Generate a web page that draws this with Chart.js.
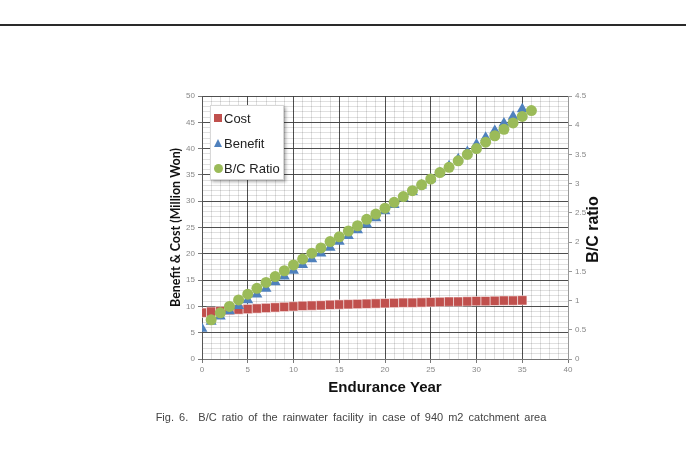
<!DOCTYPE html>
<html>
<head>
<meta charset="utf-8">
<script src="https://cdn.jsdelivr.net/npm/chart.js@4"></script>
<style>
    html, body { margin: 0; padding: 0; background: #fff; }
    #wrap { position: relative; width: 686px; height: 459px; overflow: hidden; }
    #chart { position: absolute; left: 0; top: 0; }
    .rule { position: absolute; left: 0; top: 24px; width: 686px; height: 2px; background: #2a2a2a; }
    .caption {
        position: absolute; left: 8px; top: 411px; width: 686px; text-align: center;
        font: 11px "Liberation Sans", Arial, sans-serif; line-height: 13px;
        color: #444; word-spacing: 2px; white-space: pre;
    }
    .legend {
        position: absolute; left: 210px; top: 105px; width: 74px; height: 75px;
        background: #fff; border: 1px solid #d8d8d8; box-sizing: border-box;
        box-shadow: 2px 2px 3px rgba(0, 0, 0, 0.3);
        font: 13px "Liberation Sans", Arial, sans-serif; color: #222;
    }
    .legend div { position: relative; height: 25px; line-height: 25px; padding-left: 13px; }
    .legend i { position: absolute; left: 3px; top: 8px; }
    .sq { width: 8px; height: 8px; background: #c0504d; }
    .tri { width: 0; height: 0; border-left: 4.5px solid transparent; border-right: 4.5px solid transparent; border-bottom: 8px solid #4f81bd; }
    .dot { width: 9px; height: 9px; border-radius: 50%; background: #9bbb59; }
</style>
</head>
<body>
<div id="wrap">
    <div class="rule"></div>
    <canvas id="chart" width="686" height="459"></canvas>
    <div class="legend">
        <div><i class="sq"></i>Cost</div>
        <div><i class="tri"></i>Benefit</div>
        <div><i class="dot"></i>B/C Ratio</div>
    </div>
    <div class="caption">Fig. 6.  B/C ratio of the rainwater facility in case of 940 m2 catchment area</div>
</div>
<script>
// years of service (x) for cost and benefit
const years = [0, 1, 2, 3, 4, 5, 6, 7, 8, 9, 10, 11, 12, 13, 14, 15, 16, 17,
    18, 19, 20, 21, 22, 23, 24, 25, 26, 27, 28, 29, 30, 31, 32, 33, 34, 35];

// Million Won
const costValues = [8.8, 9.0, 9.1, 9.3, 9.4, 9.5, 9.6, 9.7, 9.8, 9.9, 10.0, 10.1,
    10.15, 10.2, 10.3, 10.35, 10.4, 10.45, 10.5, 10.55, 10.6, 10.65, 10.7, 10.7,
    10.75, 10.8, 10.85, 10.9, 10.9, 10.95, 11.0, 11.0, 11.05, 11.1, 11.1, 11.15];

const benefitValues = [5.8, 7.1, 8.1, 9.1, 10.1, 11.2, 12.3, 13.4, 14.6, 15.7, 16.8, 17.9,
    19.0, 20.1, 21.2, 22.3, 23.4, 24.5, 25.6, 26.8, 28.1, 29.3, 30.6, 31.8,
    33.0, 34.2, 35.4, 36.7, 38.0, 39.4, 40.8, 42.1, 43.4, 44.8, 46.1, 47.5];

// B/C ratio series sits one year to the right in the original
const ratioYears = [1, 2, 3, 4, 5, 6, 7, 8, 9, 10, 11, 12, 13, 14, 15, 16, 17, 18,
    19, 20, 21, 22, 23, 24, 25, 26, 27, 28, 29, 30, 31, 32, 33, 34, 35, 36];
const ratioValues = [0.67, 0.79, 0.90, 1.01, 1.11, 1.21, 1.31, 1.41, 1.51, 1.61, 1.71, 1.81,
    1.90, 2.01, 2.09, 2.19, 2.28, 2.39, 2.48, 2.58, 2.68, 2.78, 2.88, 2.98,
    3.08, 3.19, 3.28, 3.39, 3.50, 3.60, 3.71, 3.82, 3.93, 4.04, 4.15, 4.25];

// axis ranges
const xRange = [0, 40];
const leftRange = [0, 50];
const rightRange = [0, 4.5];

const toPoints = (xs, ys) => xs.map((x, i) => ({ x: x, y: ys[i] }));

// translucent minor lines so they don't wash out the major ones where they cross
const majorGrid = ctx => (ctx.tick && ctx.tick.value % 5 === 0) ? 'rgba(60,60,60,0.9)' : 'rgba(0,0,0,0.12)';
const majorTick = ctx => (ctx.tick && ctx.tick.value % 5 === 0) ? '#777777' : 'rgba(0,0,0,0)';
const everyFifth = v => (v % 5 === 0 ? v : '');
const tickFont = { family: '"Liberation Sans", Arial, sans-serif', size: 8 };

// rotated right-hand axis title (reads bottom to top like the left one)
const rightTitle = {
    id: 'rightTitle',
    afterDraw: function (chart) {
        const ctx = chart.ctx;
        const s = chart.scales.y2;
        ctx.save();
        ctx.translate(s.right - 16, (chart.chartArea.top + chart.chartArea.bottom) / 2 + 2);
        ctx.rotate(-Math.PI / 2);
        ctx.font = 'bold 16px "Liberation Sans", Arial, sans-serif';
        ctx.fillStyle = '#111';
        ctx.textAlign = 'center';
        ctx.textBaseline = 'middle';
        ctx.fillText('B/C ratio', 0, 0);
        ctx.restore();
    }
};

new Chart(document.getElementById('chart'), {
    type: 'scatter',
    data: {
        datasets: [
            {
                label: 'Cost',
                data: toPoints(years, costValues),
                pointStyle: 'rect',
                pointRadius: 6.6,
                backgroundColor: '#c0504d',
                borderColor: 'rgba(255,255,255,0.7)',
                borderWidth: 0.8,
                yAxisID: 'y',
                order: 2
            },
            {
                label: 'Benefit',
                data: toPoints(years, benefitValues),
                pointStyle: 'triangle',
                pointRadius: 6.3,
                backgroundColor: '#4f81bd',
                borderColor: '#4f81bd',
                borderWidth: 0,
                yAxisID: 'y',
                order: 1
            },
            {
                label: 'B/C Ratio',
                data: toPoints(ratioYears, ratioValues),
                pointStyle: 'circle',
                pointRadius: 5.5,
                backgroundColor: '#9bbb59',
                borderColor: '#9bbb59',
                borderWidth: 0,
                yAxisID: 'y2',
                order: 0
            }
        ]
    },
    options: {
        responsive: false,
        animation: false,
        layout: { padding: { left: 160, right: 76, top: 96, bottom: 59 } },
        plugins: {
            legend: { display: false },
            tooltip: { enabled: false }
        },
        scales: {
            x: {
                type: 'linear',
                min: xRange[0],
                max: xRange[1],
                afterFit: s => { s.height = 41; },
                ticks: { stepSize: 1, autoSkip: false, maxRotation: 0, padding: 2,
                    color: '#888', font: tickFont, callback: everyFifth },
                grid: { color: majorGrid, tickColor: majorTick, tickLength: 4, lineWidth: 1 },
                border: { color: '#777' },
                title: {
                    display: true,
                    text: 'Endurance Year',
                    color: '#111',
                    font: { family: '"Liberation Sans", Arial, sans-serif', size: 15, weight: 'bold' },
                    padding: { top: 0, bottom: 3 }
                }
            },
            y: {
                position: 'left',
                min: leftRange[0],
                max: leftRange[1],
                afterFit: s => { s.width = 42; },
                ticks: { stepSize: 1, autoSkip: false, padding: 3,
                    color: '#888', font: tickFont, callback: everyFifth },
                grid: { color: majorGrid, tickColor: majorTick, tickLength: 4, lineWidth: 1 },
                border: { color: '#555' },
                title: {
                    display: true,
                    text: 'Benefit & Cost (Million Won)',
                    color: '#111',
                    font: { family: 'Lato, "Open Sans", sans-serif', size: 12.5, weight: 'bold' },
                    padding: { top: 8, bottom: 0 }
                }
            },
            y2: {
                position: 'right',
                min: rightRange[0],
                max: rightRange[1],
                afterFit: s => { s.width = 42; },
                ticks: { stepSize: 0.5, autoSkip: false, padding: 3, color: '#888', font: tickFont,
                    callback: v => String(v) },
                grid: { drawOnChartArea: false, tickColor: '#999', tickLength: 4 },
                border: { color: '#999' }
            }
        }
    },
    plugins: [rightTitle]
});
</script>
</body>
</html>
